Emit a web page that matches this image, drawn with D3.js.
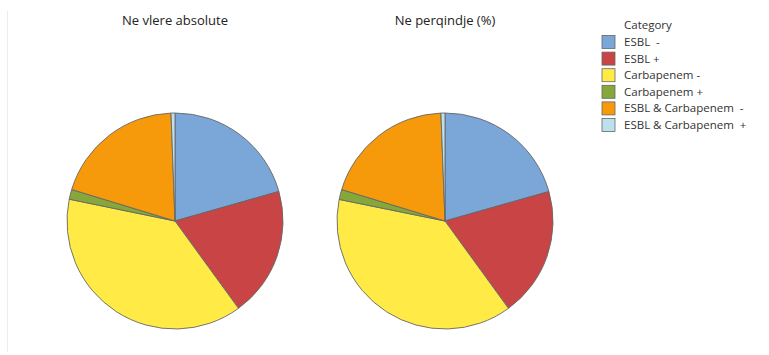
<!DOCTYPE html>
<html>
<head>
<meta charset="utf-8">
<script src="https://cdn.jsdelivr.net/npm/d3@7"></script>
<style>
  html, body { margin: 0; padding: 0; background: #fff; }
  svg { display: block; }
  text { font-family: "Open Sans", "Noto Sans", sans-serif; }
</style>
</head>
<body>
<svg id="chart" width="769" height="355"></svg>
<script>
// Categories and colours
const categories = ["ESBL  -", "ESBL +", "Carbapenem -", "Carbapenem +", "ESBL & Carbapenem  -", "ESBL & Carbapenem  +"];
const colors = ["#7aa6d8", "#c84445", "#ffea46", "#86a83a", "#f69a0c", "#bde0ee"];

// Counts (absolute values) and shares (%)
const absoluteValues = [70, 66, 130, 5, 67, 2];
const percentValues = [20.6, 19.4, 38.2, 1.5, 19.7, 0.6];

const panelTitles = ["Ne vlere absolute", "Ne perqindje (%)"];
const legendTitle = "Category";

const svg = d3.select("#chart");

// faint frame line on the left
svg.append("line")
  .attr("x1", 7.5).attr("x2", 7.5).attr("y1", 11).attr("y2", 352)
  .attr("stroke", "#ececec").attr("stroke-width", 1);

const color = d3.scaleOrdinal().domain(categories).range(colors);
const pie = d3.pie().sort(null).value(d => d.value);
const radius = 108;
const arc = d3.arc().innerRadius(0).outerRadius(radius);

const panels = [
  { title: panelTitles[0], values: absoluteValues, cx: 175, cy: 221 },
  { title: panelTitles[1], values: percentValues, cx: 445, cy: 221 }
];

panels.forEach(p => {
  const data = categories.map((c, i) => ({ cat: c, value: p.values[i] }));
  svg.append("text")
    .attr("x", p.cx).attr("y", 25)
    .attr("text-anchor", "middle")
    .attr("font-size", 13)
    .attr("font-weight", 500)
    .attr("fill", "#222")
    .text(p.title);

  const g = svg.append("g").attr("transform", `translate(${p.cx},${p.cy})`);
  g.selectAll("path")
    .data(pie(data))
    .join("path")
    .attr("d", arc)
    .attr("fill", d => color(d.data.cat))
    .attr("stroke", "#666")
    .attr("stroke-width", 0.9)
    .attr("stroke-linejoin", "round");
});

// Legend
const legend = svg.append("g").attr("transform", "translate(602,0)");
legend.append("text")
  .attr("x", 22).attr("y", 29)
  .attr("font-size", 11.5)
  .attr("fill", "#333")
  .text(legendTitle);

const rows = legend.selectAll("g.row")
  .data(categories)
  .join("g")
  .attr("class", "row")
  .attr("transform", (d, i) => `translate(0,${42 + i * 16.6})`);

rows.append("rect")
  .attr("x", 0).attr("y", -6.5)
  .attr("width", 13).attr("height", 13)
  .attr("fill", d => color(d))
  .attr("stroke", "#666")
  .attr("stroke-width", 0.8);

rows.append("text")
  .attr("x", 22).attr("y", 4)
  .attr("font-size", 11.5)
  .attr("fill", "#333")
  .attr("xml:space", "preserve")
  .style("white-space", "pre")
  .text(d => d);
</script>
</body>
</html>
